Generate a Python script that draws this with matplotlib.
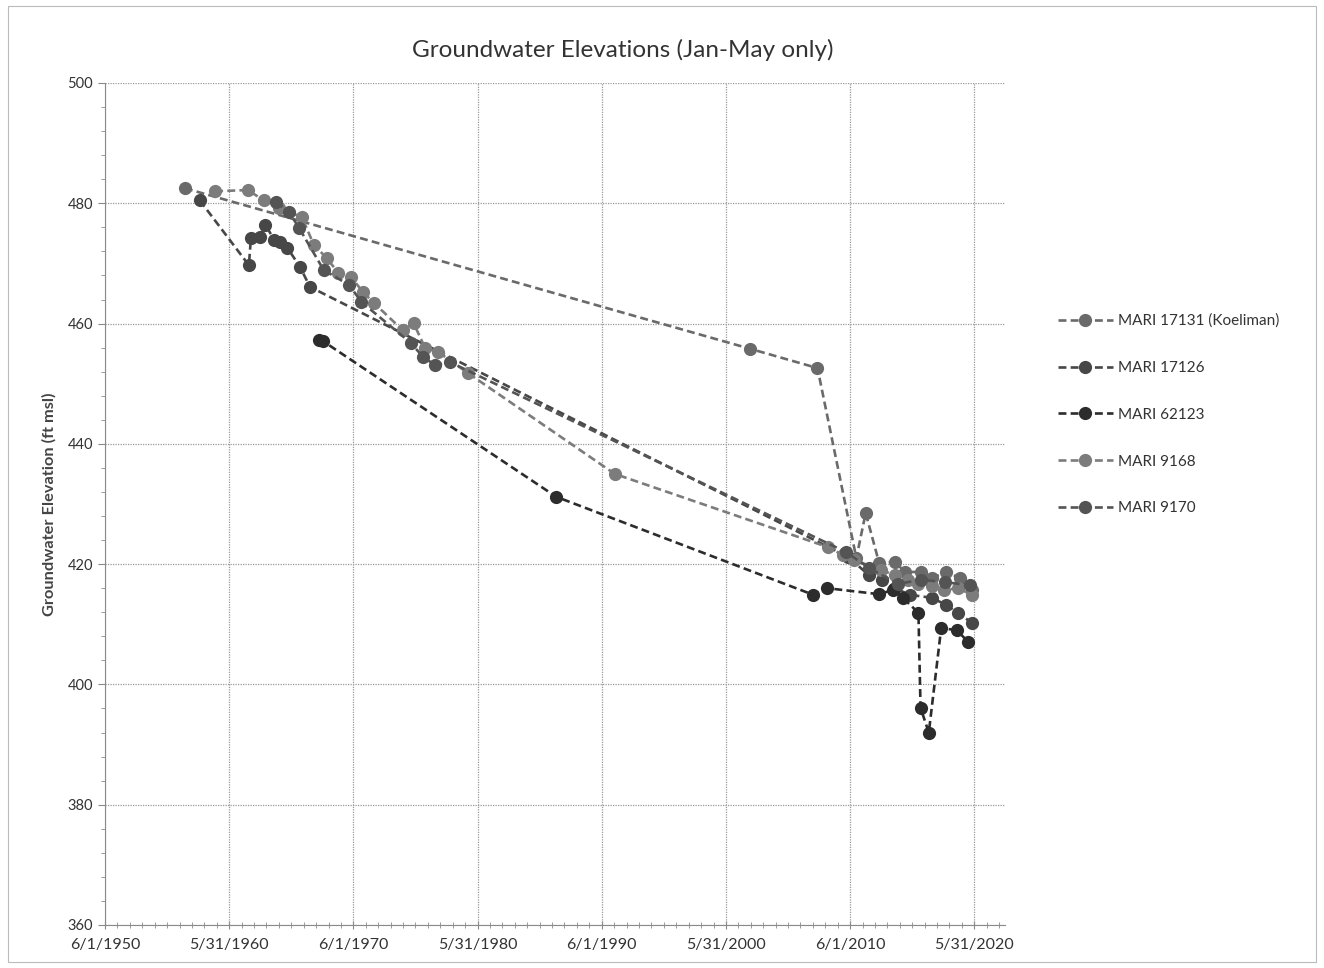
import matplotlib
matplotlib.use("Agg")
import matplotlib.pyplot as plt
import matplotlib.dates as mdates
import pandas as pd

plt.rcParams['font.family'] = ['Lato', 'DejaVu Sans']

# --- data (dates, ft msl) ---
k17131_dates = ['1956-11-06', '2002-05-18', '2007-10-15', '2010-12-01', '2011-09-01',
                '2012-10-01', '2014-01-01', '2014-11-01', '2016-02-01', '2017-01-01',
                '2018-03-01', '2019-04-01', '2020-04-01']
k17131_vals = [482.5, 455.8, 452.6, 421.0, 428.5,
               420.2, 420.4, 418.7, 418.7, 417.7,
               418.7, 417.7, 415.7]

m17126_dates = ['1958-01-15', '1962-01-01', '1962-03-01', '1962-11-15', '1963-05-01',
                '1964-01-20', '1964-07-15', '1965-02-05', '1966-02-15', '1966-12-01',
                '2010-04-01', '2011-12-01', '2013-01-01', '2014-01-01', '2015-04-01',
                '2017-01-01', '2018-03-01', '2019-02-01', '2020-04-01']
m17126_vals = [480.5, 469.7, 474.2, 474.4, 476.4,
               473.9, 473.6, 472.6, 469.4, 466.1,
               421.2, 418.2, 417.4, 416.0, 414.9,
               414.4, 413.2, 411.9, 410.2]

m62123_dates = ['1967-08-15', '1967-12-15', '1986-10-01', '2007-06-15', '2008-08-01',
                '2012-10-01', '2013-11-01', '2014-09-01', '2015-12-01', '2016-02-01',
                '2016-10-01', '2017-10-01', '2019-01-01', '2019-12-01']
m62123_vals = [457.3, 457.1, 431.2, 414.9, 416.0,
               415.0, 415.7, 414.4, 411.9, 396.1,
               392.0, 409.4, 409.0, 407.1]

m9168_dates = ['1959-04-15', '1961-12-01', '1963-03-10', '1964-06-15', '1966-04-10',
               '1967-03-25', '1968-04-05', '1969-03-20', '1970-04-01', '1971-03-15',
               '1972-02-01', '1974-05-20', '1975-04-05', '1976-03-15', '1977-03-25',
               '1979-08-15', '1991-06-20', '2008-09-01', '2009-11-01', '2010-10-01',
               '2012-12-01', '2014-01-01', '2015-02-01', '2015-12-01', '2017-01-01',
               '2018-01-01', '2019-02-01', '2020-04-01']
m9168_vals = [482.0, 482.2, 480.5, 479.2, 477.7,
              473.1, 470.9, 468.4, 467.7, 465.2,
              463.4, 458.9, 460.1, 455.9, 455.3,
              451.8, 435.0, 422.8, 421.5, 420.7,
              419.0, 418.2, 417.4, 416.7, 416.4,
              415.7, 416.0, 414.9]

m9170_dates = ['1964-03-20', '1965-04-01', '1966-01-15', '1968-01-10', '1970-02-01',
               '1971-01-20', '1975-01-10', '1976-01-20', '1977-01-01', '1978-03-10',
               '2010-02-01', '2011-12-01', '2014-04-01', '2016-02-01', '2018-02-01',
               '2020-02-01']
m9170_vals = [480.2, 478.5, 475.9, 468.9, 466.4,
              463.6, 456.8, 454.4, 453.1, 453.6,
              422.0, 419.4, 416.7, 417.4, 417.0,
              416.5]

labels = ['MARI 17131 (Koeliman)', 'MARI 17126', 'MARI 62123', 'MARI 9168', 'MARI 9170']
colors = ['#6a6a6a', '#474747', '#2c2c2c', '#7c7c7c', '#545454']

tick_dates = ['1950-06-01', '1960-05-31', '1970-06-01', '1980-05-31',
              '1990-06-01', '2000-05-31', '2010-06-01', '2020-05-31']
tick_labels = ['6/1/1950', '5/31/1960', '6/1/1970', '5/31/1980',
               '6/1/1990', '5/31/2000', '6/1/2010', '5/31/2020']

series = [(k17131_dates, k17131_vals), (m17126_dates, m17126_vals),
          (m62123_dates, m62123_vals), (m9168_dates, m9168_vals),
          (m9170_dates, m9170_vals)]

fig = plt.figure(figsize=(13.24, 9.68), dpi=100)
ax = fig.add_axes([105 / 1324, 1 - 925 / 968, 900 / 1324, 842 / 968])

for (d, v), lab, c in zip(series, labels, colors):
    ax.plot(pd.to_datetime(d), v, linestyle=(0, (3, 1.6)), lw=1.9, color=c,
            marker='o', markersize=9.5, markeredgewidth=0, label=lab)

ax.set_ylim(360, 500)
ax.set_yticks(range(360, 501, 20))
ax.yaxis.set_minor_locator(matplotlib.ticker.MultipleLocator(4))
ax.set_xlim(pd.Timestamp('1950-06-01'), pd.Timestamp('2022-11-20'))
ax.set_xticks(pd.to_datetime(tick_dates))
ax.set_xticklabels(tick_labels)
ax.xaxis.set_minor_locator(mdates.YearLocator(1, month=6, day=1))

ax.grid(True, which='major', linestyle=(0, (1, 1)), color='#9a9a9a', lw=0.9)
for s in ['top', 'right']:
    ax.spines[s].set_visible(False)
for s in ['left', 'bottom']:
    ax.spines[s].set_color('#8a8a8a')
ax.tick_params(axis='both', which='both', colors='#8a8a8a', labelcolor='#333333')
ax.tick_params(axis='y', which='major', length=5, labelsize=10.5)
ax.tick_params(axis='y', which='minor', length=3)
ax.tick_params(axis='x', which='major', length=6, direction='inout', labelsize=11.5, pad=6)
ax.tick_params(axis='x', which='minor', length=5, direction='inout')

ax.set_ylabel('Groundwater Elevation (ft msl)', fontsize=11.8, fontweight='bold',
              color='#444444', labelpad=8)
fig.text(623 / 1324, 1 - 50 / 968, 'Groundwater Elevations (Jan-May only)',
         ha='center', va='center', fontsize=17.5, color='#333333')

leg = fig.legend(loc='upper left', bbox_to_anchor=(1044 / 1324, 1 - 300 / 968),
                 frameon=False, fontsize=11, labelspacing=2.15, handlelength=3.6,
                 handletextpad=0.35, labelcolor='#333333')

fig.patches.append(plt.Rectangle((8 / 1324, 6 / 968), 1308 / 1324, 956 / 968,
                                 transform=fig.transFigure, fill=False,
                                 edgecolor='#bbbbbb', lw=0.8))

fig.savefig('out.png', dpi=100)
